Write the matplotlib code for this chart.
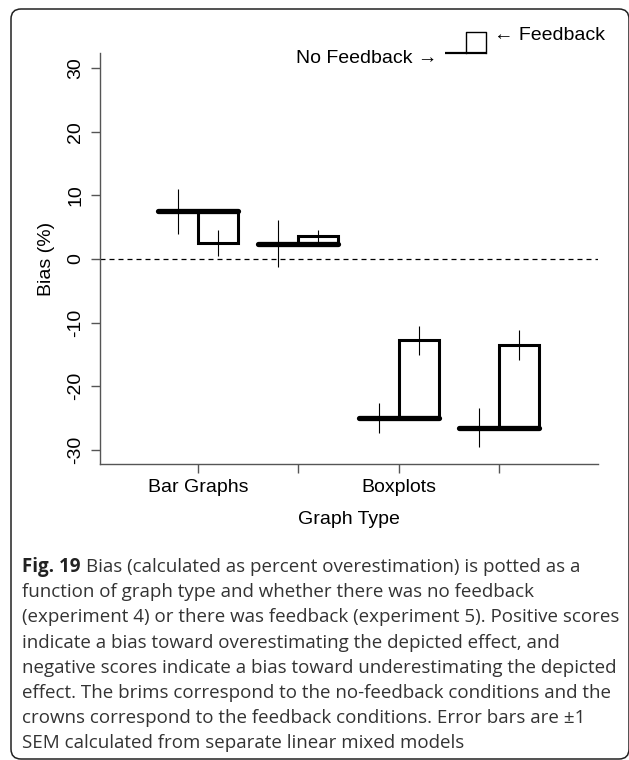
import matplotlib
matplotlib.use("Agg")
import matplotlib.pyplot as plt
import numpy as np
from matplotlib.patches import FancyBboxPatch
from matplotlib.transforms import IdentityTransform

# bias (%) per graph type, brims = no feedback (exp 4), crowns = feedback (exp 5)
groups = ['Bar Graphs', '', 'Boxplots', '']
no_feedback = [7.5, 2.4, -25.0, -26.5]
no_feedback_sem = [3.5, 3.7, 2.4, 3.1]
feedback = [2.5, 3.6, -12.8, -13.5]
feedback_sem = [2.05, 0.95, 2.3, 2.35]

caption_lines = [
    "Bias (calculated as percent overestimation) is potted as a",
    "function of graph type and whether there was no feedback",
    "(experiment 4) or there was feedback (experiment 5). Positive scores",
    "indicate a bias toward overestimating the depicted effect, and",
    "negative scores indicate a bias toward underestimating the depicted",
    "effect. The brims correspond to the no-feedback conditions and the",
    "crowns correspond to the feedback conditions. Error bars are \u00b11",
    "SEM calculated from separate linear mixed models",
]

W, H = 629, 760
fs = 14
plt.rcParams['font.family'] = ['Liberation Sans', 'DejaVu Sans']
fig = plt.figure(figsize=(W / 100, H / 100), dpi=100)

ax = fig.add_axes([100 / W, 296 / H, 498 / W, 411 / H])
x = np.arange(1, len(groups) + 1)
nf = np.array(no_feedback)
fb = np.array(feedback)

ax.axhline(0, color='black', lw=0.9, ls=(0, (4, 3.2)), zorder=1)

# brims
brims = ax.hlines(nf, x - 0.4, x + 0.4, colors='black', lw=3.8, zorder=3)
brims.set_capstyle('round')
# crowns
ax.bar(x, fb - nf, width=0.4, bottom=nf, align='edge', fill=False,
       edgecolor='black', linewidth=2.2, zorder=4, joinstyle='miter')
ax.errorbar(x - 0.2, nf, yerr=no_feedback_sem, fmt='none', ecolor='black',
            elinewidth=0.8, capsize=0, zorder=5)
ax.errorbar(x + 0.2, fb, yerr=feedback_sem, fmt='none', ecolor='black',
            elinewidth=0.8, capsize=0, zorder=5)

ax.set_xlim(0.02, 4.99)
ax.set_ylim(-32.2, 32.35)
ax.set_xticks(x)
ax.set_xticklabels(groups, fontsize=fs)
ax.set_yticks(np.arange(-30, 31, 10))
ax.set_yticklabels([str(v) for v in range(-30, 31, 10)], fontsize=fs,
                   rotation=90, va='center')
for s in ['top', 'right']:
    ax.spines[s].set_visible(False)
for s in ['left', 'bottom']:
    ax.spines[s].set_color('#555555')
    ax.spines[s].set_linewidth(1.0)
ax.tick_params(axis='both', colors='#555555', length=6.5, width=1.0,
               labelcolor='black')
ax.tick_params(axis='y', pad=5)
ax.tick_params(axis='x', pad=4)

ax.set_ylabel('Bias (%)', fontsize=fs)
ax.yaxis.label.set_verticalalignment('center')
ax.yaxis.set_label_coords(-0.108, 0.5)
ax.set_xlabel('Graph Type', fontsize=fs)
ax.xaxis.label.set_verticalalignment('top')
ax.xaxis.set_label_coords(0.5, -0.115)

# hat legend above the plot
tr = ax.transAxes
ax.plot([0.693, 0.775], [1.0, 1.0], color='black', lw=1.6, transform=tr,
        clip_on=False, solid_capstyle='butt')
ax.plot([0.735, 0.735, 0.775, 0.775], [1.0, 1.051, 1.051, 1.0], color='black',
        lw=1.0, transform=tr, clip_on=False)
ax.text(0.677, 0.976, 'No Feedback \u2192', transform=tr, ha='right',
        va='baseline', fontsize=fs)
ax.text(0.791, 1.032, '\u2190 Feedback', transform=tr, ha='left',
        va='baseline', fontsize=fs)

# caption
cap_font = ['Open Sans', 'DejaVu Sans']
cap_size = 13.5
x0 = 22
base0 = 572
step = 25.2
fig.canvas.draw()
r = fig.canvas.get_renderer()
t = fig.text(x0 / W, 1 - base0 / H, 'Fig. 19', family=cap_font, weight='bold',
             fontsize=cap_size, va='baseline', color='#222222')
bb = t.get_window_extent(renderer=r)
for i, line in enumerate(caption_lines):
    xs = (bb.x1 + 5) / W if i == 0 else x0 / W
    fig.text(xs, 1 - (base0 + i * step) / H, line, family=cap_font,
             fontsize=cap_size, va='baseline', color='#333333')

# rounded frame
frame = FancyBboxPatch((11, 1), 618, 750, boxstyle='round,pad=0,rounding_size=10',
                       transform=IdentityTransform(), fill=False,
                       edgecolor='#222222', lw=1.1)
fig.patches.append(frame)

fig.savefig('out.png', dpi=100)
